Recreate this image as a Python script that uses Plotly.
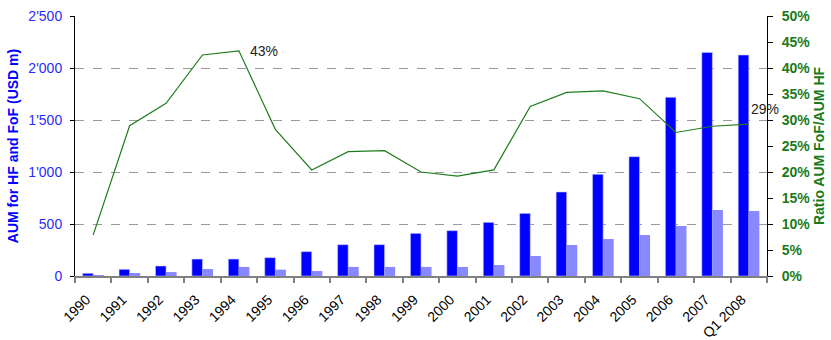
import plotly.graph_objects as go

# Assets under management (USD m) for hedge funds and funds of funds, and the FoF/HF ratio (%)
years = ["1990", "1991", "1992", "1993", "1994", "1995", "1996", "1997", "1998", "1999",
         "2000", "2001", "2002", "2003", "2004", "2005", "2006", "2007", "Q1 2008"]
aum_hf = [26, 64, 96, 163, 163, 176, 234, 301, 301, 410,
          436, 516, 602, 808, 978, 1147, 1718, 2150, 2125]
aum_fof = [2, 29, 38, 67, 87, 61, 48, 87, 87, 87,
           87, 106, 192, 298, 356, 394, 481, 635, 625]
ratio_pct = [7.9, 28.9, 33.2, 42.5, 43.3, 28.2, 20.4, 23.9, 24.1, 20.0,
             19.2, 20.4, 32.6, 35.3, 35.6, 34.1, 27.6, 28.8, 29.2]

left_ticks = [0, 500, 1000, 1500, 2000, 2500]
left_tick_text = ["0", "500", "1'000", "1'500", "2'000", "2'500"]
right_ticks = [0, 5, 10, 15, 20, 25, 30, 35, 40, 45, 50]
right_tick_text = [f"{v}%" for v in right_ticks]

blue = "#0000FF"
light_blue = "#8888FF"
green = "#1A7A1A"
font = "Liberation Sans, Arial, sans-serif"

fig = go.Figure()
fig.add_trace(go.Bar(x=years, y=aum_hf, marker=dict(color=blue, line=dict(color="#C8C8FF", width=0.6)),
                     name="AUM HF"))
fig.add_trace(go.Bar(x=years, y=aum_fof, marker=dict(color=light_blue, line=dict(width=0)),
                     name="AUM FoF"))
fig.add_trace(go.Scatter(x=years, y=ratio_pct, yaxis="y2", mode="lines",
                         line=dict(color="#1E7D1E", width=1.2), name="Ratio"))

# Value labels at the peak and at the last point (category positions by index)
i_peak = ratio_pct.index(max(ratio_pct))
i_last = len(ratio_pct) - 1
annotations = [
    dict(x=i_peak, y=ratio_pct[i_peak], yref="y2", xref="x",
         text=f"{round(ratio_pct[i_peak])}%", showarrow=False, xanchor="left",
         xshift=9, yshift=0, font=dict(family=font, size=14, color="#222")),
    dict(x=i_last, y=ratio_pct[i_last], yref="y2", xref="x",
         text=f"{round(ratio_pct[i_last])}%", showarrow=False, xanchor="left",
         xshift=0, yshift=15, font=dict(family=font, size=14, color="#222")),
]

fig.update_layout(
    width=831, height=340,
    margin=dict(l=75, r=64, t=16, b=64),
    paper_bgcolor="white", plot_bgcolor="white",
    barmode="group", bargap=0.42, bargroupgap=0,
    showlegend=False,
    font=dict(family=font, size=13),
    annotations=annotations,
    xaxis=dict(
        type="category", tickangle=-45, tickson="boundaries", automargin=False,
        range=[-0.5, len(years) - 0.5],
        ticks="outside", ticklen=5, tickcolor="#808080", tickwidth=2,
        showline=True, linecolor="#808080", linewidth=2,
        tickfont=dict(family=font, size=14, color="black"),
        ticklabelstandoff=8, ticklabelshift=-7,
        showgrid=False,
    ),
    yaxis=dict(
        range=[0, 2500], tickvals=left_ticks, ticktext=left_tick_text, automargin=False,
        tickfont=dict(family=font, size=14, color="#2B2BFF"),
        ticks="outside", ticklen=4, tickcolor="black", ticklabelstandoff=5,
        showline=True, linecolor="black", linewidth=1,
        showgrid=True, gridcolor="#9A9A9A", griddash="dash", gridwidth=1,
        zeroline=False,
        title=dict(text="<b>AUM for HF and FoF (USD m)</b>", standoff=6,
                   font=dict(family=font, size=14, color="#0000FF")),
    ),
    yaxis2=dict(
        overlaying="y", side="right", range=[0, 50], automargin=False,
        tickvals=right_ticks, ticktext=right_tick_text,
        tickfont=dict(family=font, size=14, color=green, weight="bold"),
        ticks="outside", ticklen=5, tickcolor="black", ticklabelstandoff=6,
        showline=True, linecolor="black", linewidth=1,
        showgrid=False, zeroline=False,
        title=dict(text="<b>Ratio AUM FoF/AUM HF</b>", standoff=4,
                   font=dict(family=font, size=14, color=green)),
    ),
)

fig.write_html("out.html")
